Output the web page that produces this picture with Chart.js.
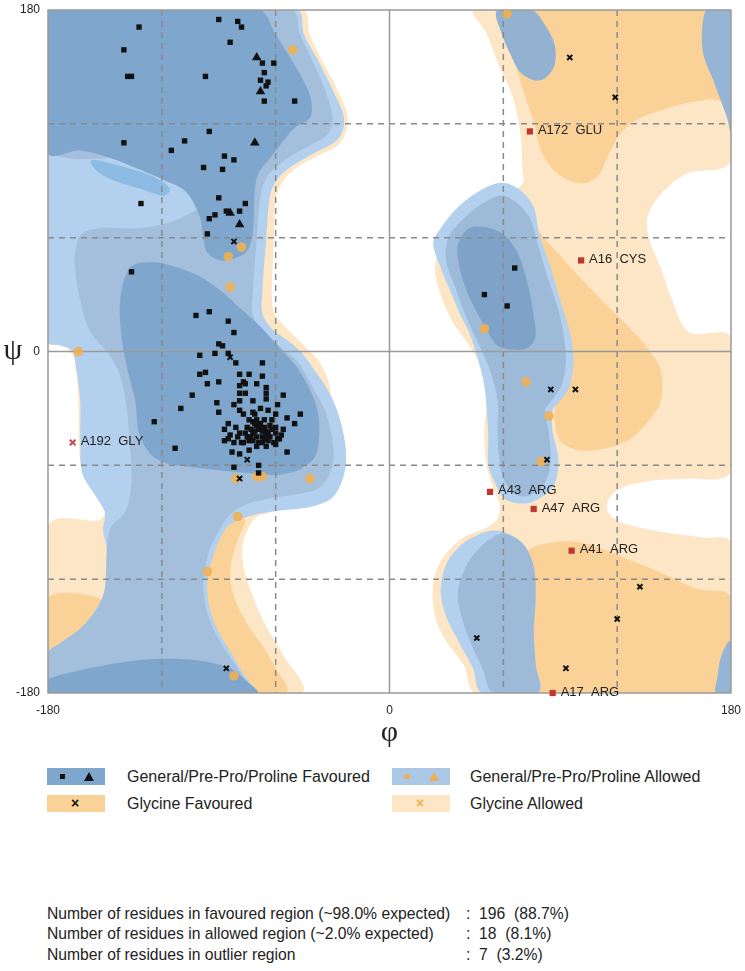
<!DOCTYPE html>
<html>
<head>
<meta charset="utf-8">
<script src="https://cdn.jsdelivr.net/npm/chart.js@4.4.1/dist/chart.umd.min.js"></script>
<style>
  body { margin: 0; background: #fff; font-family: 'Liberation Sans', Arial, sans-serif; color: #222; }
  #wrap { position: relative; width: 745px; height: 971px; }
  #plot { position: absolute; left: 0; top: 0; }
  .key { position: absolute; width: 58px; height: 17px; }
  .key span { position: absolute; }
  .lbl { position: absolute; font-size: 16px; line-height: 17px; white-space: pre; }
  .stat { position: absolute; font-size: 15.7px; line-height: 18px; white-space: pre; }
  .sq { width: 5px; height: 5px; top: 6px; }
  .tri { width: 0; height: 0; border-left: 5px solid transparent; border-right: 5px solid transparent; top: 4px; }
  .cross { font-size: 14px; line-height: 17px; top: 0; font-weight: bold; }
</style>
</head>
<body>
<div id="wrap">
  <canvas id="plot" width="745" height="750"></canvas>

  <div class="key" style="left:47px; top:768px; background:#7fa6cc;">
    <span class="sq" style="left:13px; background:#111;"></span>
    <span class="tri" style="left:37px; border-bottom:9px solid #111;"></span>
  </div>
  <div class="lbl" style="left:127px; top:768px;">General/Pre-Pro/Proline Favoured</div>
  <div class="key" style="left:392px; top:768px; background:#abc8e6;">
    <span class="sq" style="left:13px; background:#f0b050;"></span>
    <span class="tri" style="left:37px; border-bottom:9px solid #f0b050;"></span>
  </div>
  <div class="lbl" style="left:470px; top:768px;">General/Pre-Pro/Proline Allowed</div>

  <div class="key" style="left:47px; top:795px; background:#fad196;">
    <span class="cross" style="left:24px; color:#111;">×</span>
  </div>
  <div class="lbl" style="left:127px; top:795px;">Glycine Favoured</div>
  <div class="key" style="left:392px; top:795px; background:#fde6c5;">
    <span class="cross" style="left:24px; color:#f0b050;">×</span>
  </div>
  <div class="lbl" style="left:470px; top:795px;">Glycine Allowed</div>

  <div class="stat" style="left:47px; top:905px;">Number of residues in favoured region (~98.0% expected)</div>
  <div class="stat" style="left:466px; top:905px;">:  196  (88.7%)</div>
  <div class="stat" style="left:47px; top:925px;">Number of residues in allowed region (~2.0% expected)</div>
  <div class="stat" style="left:466px; top:925px;">:  18  (8.1%)</div>
  <div class="stat" style="left:47px; top:946px;">Number of residues in outlier region</div>
  <div class="stat" style="left:466px; top:946px;">:  7  (3.2%)</div>
</div>

<script>
// axes
const axisTicks = [-180, 0, 180];
const dashedGrid = [-120, -60, 60, 120];

// residues [phi, psi]
const generalFavoured = [
  [-90,175],[-80,174],[-78,171],[-132,171],[-84,163],[-140,159],[-138,145],[-136,145],[-97,145],
  [-67,152],[-61,152],[-66,147],[-68,143],[-64,142],[-65,140],[-66,132],[-50,132],[-95,116],
  [-108,111],[-140,110],[-115,106],[-87,103],[-82,101],[-98,97],[-88,96],[-90,81],[-76,78],
  [-86,74],[-79,74],[-92,72],[-95,70],[-96,62],[-131,78],[-136,42],[-102,19],[-95,21],[-85,16],
  [-82,10],[-90,4],[-88,3],
  [-100,-2],[-92,-1],[-85,-1],[-81,-6],[-67,-6],[-100,-12],[-97,-11],[-79,-12],[-74,-12],[-67,-13],
  [-96,-17],[-90,-16],[-79,-18],[-77,-16],[-76,-17],[-70,-17],[-65,-19],[-104,-23],[-79,-22],
  [-76,-22],[-65,-22],[-56,-23],[-91,-27],[-82,-28],[-79,-26],[-72,-26],[-65,-25],[-59,-28],
  [-110,-30],[-90,-32],[-79,-31],[-77,-33],[-72,-32],[-71,-33],[-68,-30],[-64,-31],[-60,-33],
  [-47,-33],[-54,-35],[-50,-38],[-85,-38],[-81,-40],[-74,-36],[-72,-37],[-70,-36],[-68,-38],
  [-68,-40],[-66,-40],[-65,-42],[-73,-41],[-71,-42],[-70,-39],[-87,-41],[-62,-41],[-56,-41],
  [-84,-44],[-80,-45],[-79,-43],[-75,-45],[-73,-45],[-70,-45],[-67,-45],[-65,-44],[-63,-45],
  [-60,-43],[-58,-46],[-87,-47],[-85,-46],[-82,-48],[-78,-48],[-77,-48],[-74,-47],[-69,-48],
  [-67,-48],[-64,-47],[-60,-49],[-59,-46],[-83,-53],[-79,-54],[-74,-52],[-54,-53],[-82,-61],
  [-69,-60],[-69,-64],[-124,-37],[-113,-51],
  [-66,-36],[-63,-39],[-62,-36],[-71,-38],[-69,-41],[-72,-43],[-66,-46],[-75,-40],[-76,-43],
  [-70,-50],[-72,-47],[-65,-50],[-61,-48],[-57,-44],[-64,-43],[-67,-42],[-60,-40],
  [66,44],[50,30],[62,24]
];
const prolineFavoured = [[-70,155],[-68,137],[-71,110],[-84,73],[-79,67]];
const glycineFavoured = [
  [-82,58],[-84,-3],[-75,-57],[-79,-67],[-86,-167],[95,155],[119,134],[85,-20],[98,-20],
  [83,-57],[132,-124],[120,-141],[46,-151],[93,-167]
];
const generalAllowed = [
  [-51,159],[-78,55],[-85,50],[-84,34],[-164,0],[-81,-67],[-70,-66],[-67,-66],[-42,-67],
  [-80,-87],[-96,-116],[-82,-171],[62,178],[50,12],[72,-16],[84,-34],[80,-58]
];
const outlierPoints = [[74,116],[101,48],[53,-74],[76,-83],[96,-105],[86,-180]];
const outlierLabels = ['A172  GLU','A16  CYS','A43  ARG','A47  ARG','A41  ARG','A17  ARG'];
const glycineOutliers = [[-167,-48]];
const glycineOutlierLabels = ['A192  GLY'];

// contour regions [phi, psi]
const glyAllowedLeft = [
  [-180,180],[-46,180],[-42,167],[-36,154],[-28,139],[-22,123],[-26,110],[-38,103],[-49,97],
  [-56,90],[-60,81],[-61,59],[-62,32],[-61,21],[-55,13],[-45,3],[-36,-7],[-31,-23],[-37,-42],
  [-47,-63],[-62,-84],[-71,-88],[-77,-100],[-77,-113],[-72,-129],[-65,-145],[-56,-160],[-47,-180],
  [-180,-180],[-180,-92],[-153,-89],[-150,-81],[-158,-71],[-163,-58],[-164,-26],[-166,-5],
  [-171,3],[-180,6]
];
const glyAllowedRight = [
  [45,180],[180,180],[180,101],[157,94],[143,83],[136,71],[137,59],[143,44],[149,27],[158,10],
  [180,7],[180,-63],[157,-67],[139,-68],[122,-72],[115,-79],[116,-86],[125,-91],[143,-95],
  [165,-98],[180,-101],[180,-180],[46,-180],[39,-165],[30,-153],[24,-140],[23,-122],[28,-109],
  [39,-98],[51,-93],[57,-88],[58,-80],[54,-70],[51,-59],[50,-42],[51,-24],[47,-6],[40,6],
  [33,16],[27,30],[24,43],[27,56],[36,67],[48,77],[61,84],[70,88],[70,97],[69,115],[65,134],
  [58,150],[51,168]
];
const glyFavLeftStrip = [
  [-83,-90],[-76,-89],[-81,-102],[-84,-116],[-82,-129],[-76,-142],[-67,-155],[-60,-167],
  [-55,-180],[-87,-180],[-94,-153],[-98,-126],[-95,-102]
];
const glyFavLeftPatch = [[-180,-130],[-153,-130],[-149,-139],[-161,-148],[-174,-157],[-180,-163]];
const glyFavRightTop = [
  [69,180],[180,180],[180,131],[171,133],[157,131],[143,127],[130,122],[122,115],[116,105],
  [111,94],[104,89],[95,90],[86,96],[79,108],[77,118],[72,133],[68,146],[65,164]
];
const glyFavRightMid = [
  [74,67],[82,59],[95,45],[108,31],[122,17],[135,3],[143,-10],[143,-26],[137,-36],[127,-46],
  [114,-51],[100,-52],[90,-47],[87,-36],[87,-26],[79,1],[73,27],[69,48]
];
const glyFavRightLow = [
  [69,-110],[76,-103],[94,-100],[109,-103],[127,-110],[144,-117],[162,-125],[180,-130],
  [180,-180],[69,-180]
];
const allowedLeft = [
  [-180,180],[-49,180],[-45,167],[-38,154],[-30,138],[-24,123],[-27,112],[-39,105],[-51,98],
  [-59,91],[-63,82],[-65,59],[-67,32],[-67,20],[-62,12],[-54,6],[-46,-1],[-38,-12],[-31,-23],
  [-26,-36],[-23,-52],[-24,-65],[-30,-77],[-42,-82],[-58,-84],[-71,-86],[-80,-89],[-86,-93],
  [-92,-105],[-96,-121],[-95,-134],[-91,-146],[-84,-158],[-77,-170],[-72,-180],[-180,-180],
  [-180,-159],[-174,-154],[-163,-146],[-154,-135],[-150,-125],[-149,-105],[-151,-94],[-150,-85],
  [-155,-76],[-162,-64],[-163,-47],[-163,-26],[-165,-10],[-167,0],[-173,3],[-180,5]
];
const allowedRightL = [
  [59,89],[48,85],[36,76],[27,65],[23,57],[27,44],[32,32],[37,20],[42,10],[46,-2],[50,-18],
  [52,-42],[52,-59],[55,-68],[60,-77],[67,-80],[76,-79],[85,-73],[88,-67],[89,-56],[86,-42],
  [86,-31],[90,-26],[95,-18],[97,-5],[96,6],[94,14],[90,27],[85,44],[79,62],[76,76],[69,85]
];
const allowedRightLow = [
  [60,-95],[51,-95],[39,-101],[30,-112],[27,-126],[30,-140],[37,-154],[44,-167],[49,-180],
  [78,-180],[77,-165],[76,-147],[77,-130],[76,-113],[70,-101]
];
const coreLeft = [
  [-180,106],[-180,180],[-52,180],[-47,167],[-41,154],[-34,138],[-30,123],[-33,114],[-45,107],
  [-55,101],[-64,93],[-68,82],[-70,59],[-72,32],[-72,19],[-66,10],[-57,2],[-48,-6],[-41,-18],
  [-34,-31],[-30,-47],[-30,-60],[-36,-71],[-47,-75],[-60,-77],[-74,-80],[-83,-85],[-89,-93],
  [-95,-105],[-98,-121],[-97,-134],[-93,-146],[-86,-158],[-79,-169],[-75,-180],[-180,-180],
  [-180,-159],[-174,-154],[-163,-146],[-154,-135],[-150,-125],[-149,-105],[-147,-93],[-139,-84],
  [-136,-68],[-137,-47],[-139,-26],[-143,-10],[-150,1],[-158,11],[-163,27],[-166,48],[-163,61],
  [-153,65],[-132,65],[-116,68],[-103,74],[-97,80],[-97,106]
];
const coreRightL = [
  [61,82],[49,78],[39,70],[31,60],[30,47],[35,33],[40,19],[47,4],[53,-10],[57,-26],[57,-42],
  [58,-58],[61,-69],[68,-76],[76,-75],[82,-69],[85,-58],[84,-43],[82,-31],[86,-25],[91,-17],
  [93,-5],[92,7],[89,22],[83,40],[78,57],[73,72]
];
const coreRightLow = [
  [61,-96],[56,-97],[47,-104],[40,-114],[36,-127],[38,-140],[43,-154],[49,-167],[55,-180],
  [78,-180],[77,-165],[76,-147],[77,-130],[76,-113],[70,-101]
];
const lobeRightTop = [
  [57,180],[75,180],[82,172],[87,162],[87,151],[82,144],[76,143],[69,147],[64,156],[59,168]
];
const wrapRightTop = [[180,180],[167,180],[165,159],[171,142],[178,123],[180,115]];
const wrapRightBottom = [[180,-153],[175,-160],[173,-171],[172,-180],[180,-180]];
const brightPatch = [
  [-157,101],[-139,97],[-124,92],[-116,86],[-119,82],[-132,86],[-145,90],[-154,95]
];
const favBeta = [
  [-180,180],[-69,180],[-60,167],[-50,151],[-43,138],[-41,130],[-42,123],[-50,118],[-56,111],
  [-62,103],[-69,94],[-71,85],[-72,63],[-75,53],[-82,49],[-89,48],[-96,52],[-98,59],[-100,71],
  [-107,84],[-118,90],[-132,96],[-147,102],[-163,106],[-180,105]
];
const favAlpha = [
  [-137,44],[-126,47],[-114,45],[-101,40],[-89,32],[-79,23],[-68,13],[-58,2],[-49,-8],[-42,-20],
  [-38,-31],[-37,-43],[-39,-55],[-47,-62],[-60,-65],[-74,-64],[-95,-62],[-117,-59],[-126,-54],
  [-132,-43],[-134,-26],[-138,-10],[-141,6],[-142,27]
];
const favBottom = [
  [-180,-173],[-163,-168],[-142,-164],[-121,-162],[-100,-163],[-84,-167],[-75,-174],[-70,-180],
  [-180,-180]
];
const favRightL = [
  [42,65],[53,65],[61,61],[68,51],[73,35],[76,19],[77,8],[73,2],[65,1],[57,3],[52,10],[47,19],
  [41,31],[37,44],[36,56]
];

const regionLayers = [
  [glyAllowedLeft, '#fde6c5'], [glyAllowedRight, '#fde6c5'],
  [glyFavLeftStrip, '#fad196'], [glyFavLeftPatch, '#fad196'], [glyFavRightTop, '#fad196'],
  [glyFavRightMid, '#fad196'], [glyFavRightLow, '#fad196'],
  [allowedLeft, '#b3d1ee'], [allowedRightL, '#b3d1ee'], [allowedRightLow, '#b3d1ee'],
  [coreLeft, '#a3bfdc'], [coreRightL, '#9dbad8'], [coreRightLow, '#9dbad8'],
  [lobeRightTop, '#93b2d2'], [wrapRightTop, '#96b4d3'], [wrapRightBottom, '#96b4d3'],
  [brightPatch, '#8dbbe4'],
  [favBeta, '#7fa6cc'], [favAlpha, '#7fa6cc'], [favBottom, '#7fa6cc'], [favRightL, '#7fa3c8']
];

function toXY(pairs) {
  return pairs.map(p => ({x: p[0], y: p[1]}));
}

// smooth closed outline through the contour vertices,
// tangents clamped so long border edges do not overshoot
function traceSmooth(ctx, pts) {
  const n = pts.length;
  const tan = pts.map((p, i) => {
    const a = pts[(i - 1 + n) % n], b = pts[(i + 1) % n];
    return [(b[0] - a[0]) / 2, (b[1] - a[1]) / 2];
  });
  const ctrl = (t, len) => {
    const m = Math.hypot(t[0], t[1]) || 1;
    const k = Math.min(1, len / m) / 3;
    return [t[0] * k, t[1] * k];
  };
  ctx.beginPath();
  ctx.moveTo(pts[0][0], pts[0][1]);
  for (let i = 0; i < n; i++) {
    const p1 = pts[i], p2 = pts[(i + 1) % n];
    const len = Math.hypot(p2[0] - p1[0], p2[1] - p1[1]);
    const c1 = ctrl(tan[i], len), c2 = ctrl(tan[(i + 1) % n], len);
    ctx.bezierCurveTo(p1[0] + c1[0], p1[1] + c1[1], p2[0] - c2[0], p2[1] - c2[1], p2[0], p2[1]);
  }
  ctx.closePath();
}

const backdrop = {
  id: 'backdrop',
  beforeDatasetsDraw(chart) {
    const {ctx, chartArea: a, scales: {x, y}} = chart;
    ctx.save();
    ctx.beginPath();
    ctx.rect(a.left, a.top, a.right - a.left, a.bottom - a.top);
    ctx.clip();
    for (const [pts, color] of regionLayers) {
      const px = pts.map(p => [x.getPixelForValue(p[0]), y.getPixelForValue(p[1])]);
      traceSmooth(ctx, px);
      ctx.fillStyle = color;
      ctx.fill();
    }
    ctx.lineWidth = 1.5;
    ctx.strokeStyle = '#8a8a8a';
    ctx.setLineDash([6, 5]);
    for (const v of dashedGrid) {
      const gx = x.getPixelForValue(v), gy = y.getPixelForValue(v);
      ctx.beginPath(); ctx.moveTo(gx, a.top); ctx.lineTo(gx, a.bottom); ctx.stroke();
      ctx.beginPath(); ctx.moveTo(a.left, gy); ctx.lineTo(a.right, gy); ctx.stroke();
    }
    ctx.setLineDash([]);
    ctx.strokeStyle = '#9a9a9a';
    const zx = x.getPixelForValue(0), zy = y.getPixelForValue(0);
    ctx.beginPath(); ctx.moveTo(zx, a.top); ctx.lineTo(zx, a.bottom); ctx.stroke();
    ctx.beginPath(); ctx.moveTo(a.left, zy); ctx.lineTo(a.right, zy); ctx.stroke();
    ctx.restore();

    ctx.save();
    ctx.lineWidth = 1.5;
    ctx.strokeStyle = '#9a9a9a';
    ctx.strokeRect(a.left, a.top, a.right - a.left, a.bottom - a.top);
    ctx.fillStyle = '#222';
    ctx.font = '30px "Liberation Serif", "DejaVu Serif", serif';
    ctx.textAlign = 'center';
    ctx.textBaseline = 'middle';
    ctx.fillText('ψ', 13, (a.top + a.bottom) / 2);
    ctx.fillText('φ', (a.left + a.right) / 2, 733);
    ctx.restore();
  },
  afterDatasetsDraw(chart) {
    const {ctx, scales: {x, y}} = chart;
    ctx.save();
    ctx.fillStyle = '#222';
    ctx.font = '13px "Liberation Sans", Arial, sans-serif';
    ctx.textBaseline = 'middle';
    const put = (pts, labels) => pts.forEach((p, i) => {
      ctx.fillText(labels[i], x.getPixelForValue(p[0]) + 8, y.getPixelForValue(p[1]) - 1);
    });
    put(outlierPoints, outlierLabels);
    put(glycineOutliers, glycineOutlierLabels);
    ctx.restore();
  }
};

Chart.defaults.font.family = '"Liberation Sans", Arial, sans-serif';
Chart.defaults.color = '#222';

new Chart(document.getElementById('plot'), {
  type: 'scatter',
  data: {
    datasets: [
      {data: toXY(outlierPoints), pointStyle: 'rect', pointRadius: 4.4, backgroundColor: '#c1362d', borderWidth: 0, order: 1, clip: 8},
      {data: toXY(glycineOutliers), pointStyle: 'crossRot', pointRadius: 4, borderColor: '#c8434a', borderWidth: 2, order: 1},
      {data: toXY(glycineFavoured), pointStyle: 'crossRot', pointRadius: 3.6, borderColor: '#111', borderWidth: 2, order: 2},
      {data: toXY(prolineFavoured), pointStyle: 'triangle', pointRadius: 5.5, backgroundColor: '#111', borderWidth: 0, order: 3},
      {data: toXY(generalFavoured), pointStyle: 'rect', pointRadius: 3.8, backgroundColor: '#111', borderWidth: 0, order: 4},
      {data: toXY(generalAllowed), pointStyle: 'circle', pointRadius: 4.8, backgroundColor: 'rgba(240,176,82,0.9)', borderWidth: 0, order: 5}
    ]
  },
  options: {
    responsive: false,
    animation: false,
    devicePixelRatio: 1,
    layout: {padding: {top: 10, right: 14, left: 0, bottom: 0}},
    plugins: {legend: {display: false}, tooltip: {enabled: false}},
    scales: {
      x: {
        type: 'linear', min: -180, max: 180,
        afterBuildTicks: s => { s.ticks = axisTicks.map(v => ({value: v})); },
        afterFit: s => { s.height = 57; s.paddingLeft = 0; s.paddingRight = 0; },
        grid: {drawOnChartArea: false, drawTicks: false},
        border: {display: false},
        ticks: {padding: 10, font: {size: 12}, color: '#222'}
      },
      y: {
        type: 'linear', min: -180, max: 180,
        afterBuildTicks: s => { s.ticks = axisTicks.map(v => ({value: v})); },
        afterFit: s => { s.width = 48; s.paddingTop = 0; s.paddingBottom = 0; },
        grid: {drawOnChartArea: false, drawTicks: false},
        border: {display: false},
        ticks: {padding: 8, font: {size: 12}, color: '#222'}
      }
    }
  },
  plugins: [backdrop]
});
</script>
</body>
</html>
